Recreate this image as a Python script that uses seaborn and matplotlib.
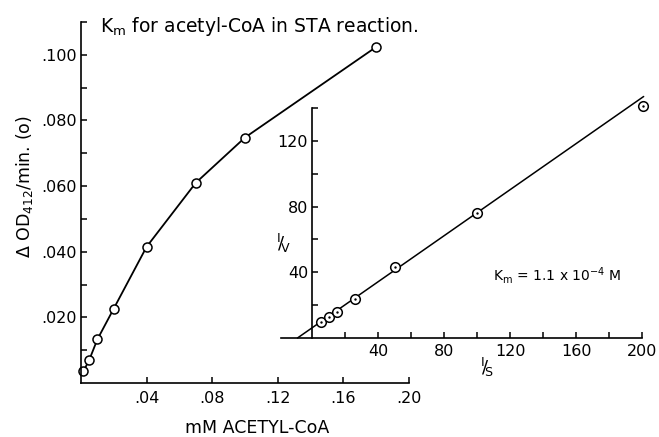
import numpy as np
import pandas as pd
import matplotlib
matplotlib.use("Agg")
import matplotlib.pyplot as plt
import seaborn as sns
from matplotlib.ticker import FixedLocator

# ---- data ----
conc = [0.0015, 0.005, 0.01, 0.02, 0.04, 0.07, 0.10, 0.18]          # mM acetyl-CoA
rate = [0.0036, 0.0070, 0.0133, 0.0227, 0.0415, 0.0610, 0.0748, 0.1024]  # dOD412/min
inv_s = [5.5, 10.3, 15.2, 26.0, 50.3, 100.0, 200.6]
inv_v = [9.8, 12.8, 15.9, 23.8, 43.4, 76.3, 141.0]
fit_x = [-9.0, 201.0]      # drawn double-reciprocal line
fit_y = [0.0, 147.0]

main_xticks = [0.04, 0.08, 0.12, 0.16, 0.20]
main_xlabels = [".04", ".08", ".12", ".16", ".20"]
main_yticks = [0.020, 0.040, 0.060, 0.080, 0.100]
main_ylabels = [".020", ".040", ".060", ".080", ".100"]
main_yminor = [0.010, 0.030, 0.050, 0.070, 0.090, 0.110]
ins_xticks = [40, 80, 120, 160, 200]
ins_xlabels = ["40", "80", "120", "160", "200"]
ins_xminor = [20, 60, 100, 140, 180]
ins_yticks = [40, 80, 120]
ins_ylabels = ["40", "80", "120"]
ins_yminor = [20, 60, 100, 140]

sns.set_theme(style="ticks")
plt.rcParams["font.family"] = ["DejaVu Sans"]
plt.rcParams["mathtext.fontset"] = "dejavusans"
plt.rcParams["mathtext.default"] = "regular"

W, H = 659, 437
fig = plt.figure(figsize=(W / 100, H / 100), dpi=100)
fig.patch.set_facecolor("white")

def fx(px):
    return px / W

def fy(py):
    return 1 - py / H

TICK_FS = 11.5

# ---- main axes ----
ax = fig.add_axes([fx(81), fy(383), (409 - 81) / W, (383 - 22) / H])
ax.set_facecolor("none")
df_main = pd.DataFrame({"conc": conc, "rate": rate})
sns.lineplot(data=df_main, x="conc", y="rate", ax=ax, color="black", lw=1.3,
             marker="o", markersize=6.5, markerfacecolor="white",
             markeredgecolor="black", markeredgewidth=1.1)
for l in ax.lines:
    l.set_clip_on(False)
ax.set_xlim(0, 0.20)
ax.set_ylim(0, 0.110)
ax.set_xticks(main_xticks)
ax.set_xticklabels(main_xlabels)
ax.set_yticks(main_yticks)
ax.set_yticklabels(main_ylabels)
ax.yaxis.set_minor_locator(FixedLocator(main_yminor))
for s in ["top", "right"]:
    ax.spines[s].set_visible(False)
for s in ["left", "bottom"]:
    ax.spines[s].set_linewidth(1.2)
    ax.spines[s].set_color("black")
ax.tick_params(axis="both", which="both", direction="in", length=4, width=1.1,
               color="black", labelsize=TICK_FS, labelcolor="black")
ax.tick_params(axis="x", pad=6)
ax.tick_params(axis="y", pad=3)
ax.set_xlabel("mM ACETYL-CoA", fontsize=12.5, va="center", color="black")
ax.xaxis.set_label_coords((257 - 81) / 328, (383 - 428) / 361)
ax.set_ylabel(r"$\Delta$ OD$_{412}$/min. (o)", fontsize=12.5, va="center",
              color="black")
ax.yaxis.set_label_coords((25 - 81) / 328, (383 - 187) / 361)

# ---- inset (double reciprocal) ----
ax2 = fig.add_axes([fx(281), fy(338), (642 - 281) / W, (338 - 108) / H])
ax2.set_facecolor("none")
sns.lineplot(x=fit_x, y=fit_y, ax=ax2, color="black", lw=1.1)
df_ins = pd.DataFrame({"inv_s": inv_s, "inv_v": inv_v})
sns.scatterplot(data=df_ins, x="inv_s", y="inv_v", ax=ax2, marker="o", s=48,
                facecolor="white", edgecolor="black", linewidth=1.1, zorder=3)
sns.scatterplot(data=df_ins, x="inv_s", y="inv_v", ax=ax2, marker="o", s=3,
                color="black", linewidth=0, zorder=4)
for l in ax2.lines:
    l.set_clip_on(False)
for c in ax2.collections:
    c.set_clip_on(False)
ax2.set_xlim(-19, 200)
ax2.set_ylim(0, 140)
ax2.spines["left"].set_position(("data", 0))
for s in ["top", "right"]:
    ax2.spines[s].set_visible(False)
for s in ["left", "bottom"]:
    ax2.spines[s].set_linewidth(1.2)
    ax2.spines[s].set_color("black")
ax2.set_xticks(ins_xticks)
ax2.set_xticklabels(ins_xlabels)
ax2.set_yticks(ins_yticks)
ax2.set_yticklabels(ins_ylabels)
ax2.xaxis.set_minor_locator(FixedLocator(ins_xminor))
ax2.yaxis.set_minor_locator(FixedLocator(ins_yminor))
ax2.tick_params(axis="both", which="both", direction="in", length=4, width=1.1,
                color="black", labelsize=TICK_FS, labelcolor="black")
ax2.tick_params(axis="x", pad=4)
ax2.tick_params(axis="y", pad=3)
ax2.set_xlabel("")
ax2.set_ylabel("")

# ---- texts ----
fig.text(fx(100), fy(27), r"K$_\mathrm{m}$ for acetyl-CoA in STA reaction.",
         fontsize=13.5, ha="left", va="center", color="black")
fig.text(fx(284), fy(243), r"$^{\mathrm{I}}\!/\!_{\mathrm{V}}$", fontsize=13,
         ha="center", va="center", color="black")
fig.text(fx(487), fy(367), r"$^{\mathrm{I}}\!/\!_{\mathrm{S}}$", fontsize=13,
         ha="center", va="center", color="black")
fig.text(fx(493), fy(275), r"K$_\mathrm{m}$ = 1.1 x 10$^{-4}$ M",
         fontsize=10, ha="left", va="center", color="black")

fig.savefig("out.png", dpi=100, facecolor="white")
